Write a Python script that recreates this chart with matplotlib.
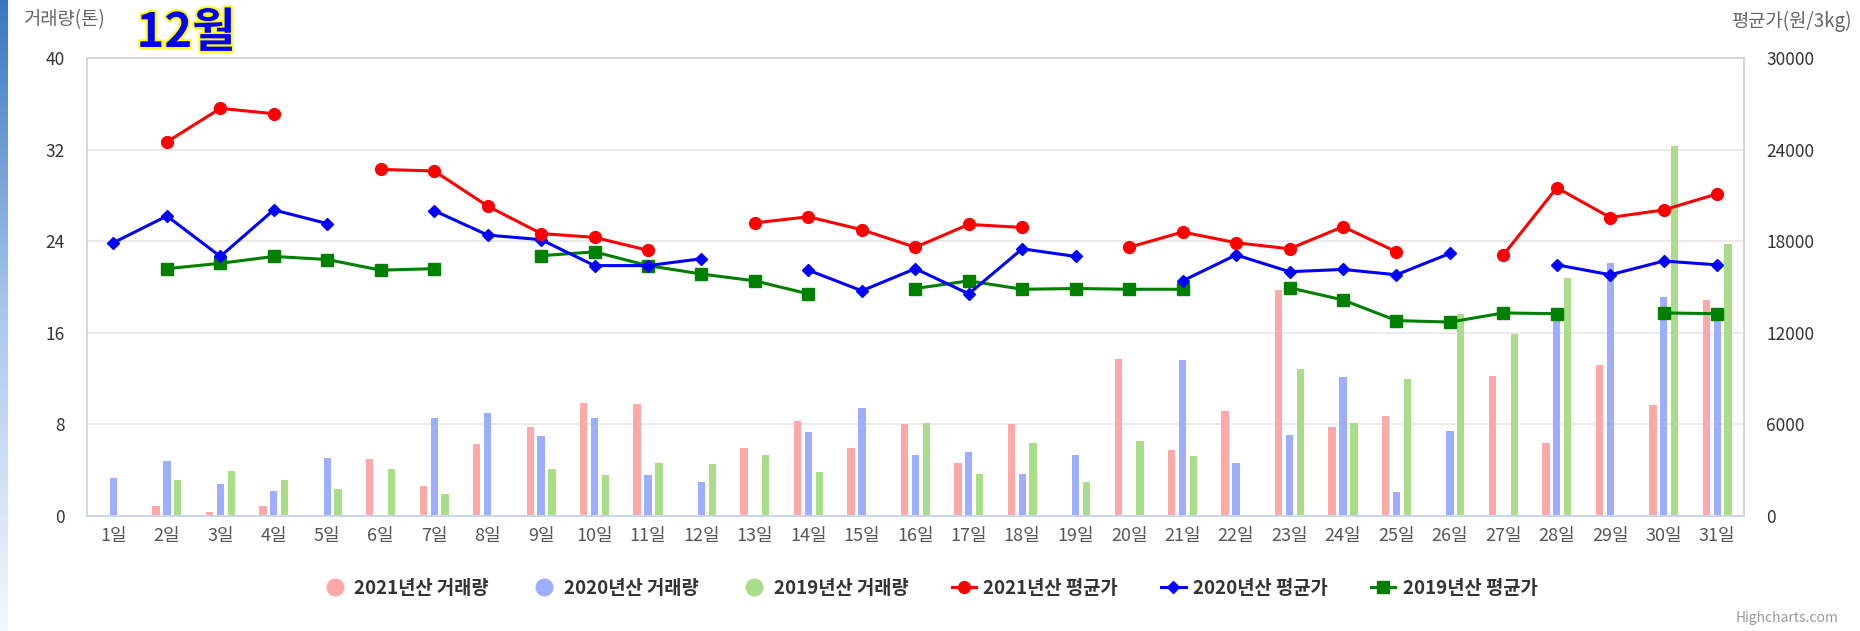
import matplotlib
matplotlib.use("Agg")
import matplotlib.pyplot as plt
import matplotlib.patheffects as pe
from matplotlib.lines import Line2D
from matplotlib.colors import LinearSegmentedColormap
import numpy as np

plt.rcParams['font.family'] = ['Noto Sans CJK KR', 'DejaVu Sans']

nan = np.nan
days = [f"{d}일" for d in range(1, 32)]

# 거래량 (톤)
vol_2021 = [nan, 0.85, 0.32, 0.85, nan, 5.0, 2.6, 6.3, 7.75, 9.9, 9.8,
            nan, 5.9, 8.3, 5.9, 8.0, 4.6, 8.0, nan, 13.7, 5.75, 9.2,
            19.7, 7.8, 8.7, nan, 12.2, 6.4, 13.2, 9.7, 18.9]
vol_2020 = [3.3, 4.8, 2.8, 2.2, 5.05, nan, 8.6, 9.0, 7.0, 8.6, 3.55,
            3.0, nan, 7.35, 9.4, 5.3, 5.6, 3.7, 5.3, nan, 13.6, 4.65,
            7.1, 12.1, 2.05, 7.4, nan, 17.6, 22.1, 19.15, 17.6]
vol_2019 = [nan, 3.15, 3.95, 3.15, 2.35, 4.1, 1.95, nan, 4.1, 3.55, 4.65,
            4.5, 5.3, 3.85, nan, 8.15, 3.7, 6.4, 3.0, 6.55, 5.2, nan,
            12.8, 8.15, 11.95, 17.65, 15.9, 20.8, nan, 32.3, 23.75]

# 평균가 (원/3kg)
price_2021 = [nan, 24500, 26700, 26350, nan, 22700, 22600, 20300, 18500, 18250, 17400,
              nan, 19200, 19600, 18750, 17600, 19100, 18900, nan, 17600, 18600, 17900,
              17500, 18950, 17300, nan, 17100, 21500, 19550, 20050, 21100]
price_2020 = [17900, 19650, 17000, 20050, 19150, nan, 20000, 18400, 18100, 16400, 16400,
              16850, nan, 16100, 14750, 16200, 14550, 17500, 17000, nan, 15400, 17100,
              16000, 16150, 15800, 17200, nan, 16450, 15800, 16700, 16450]
price_2019 = [nan, 16200, 16550, 17000, 16800, 16100, 16200, nan, 17050, 17300, 16400,
              15850, 15400, 14550, nan, 14900, 15400, 14850, 14900, 14850, 14850, nan,
              14950, 14150, 12800, 12700, 13300, 13250, nan, 13300, 13250]

fig = plt.figure(figsize=(18.6, 6.31), dpi=100)
ax = fig.add_axes([0.0466, 0.1823, 0.9376 - 0.0466, 0.9081 - 0.1823])

x = np.arange(len(days))
bw = 0.137
off = 0.204
ax.bar(x - off, vol_2021, bw, color='#ffa8a8', zorder=2)
ax.bar(x, vol_2020, bw, color='#9eaefe', zorder=2)
ax.bar(x + off, vol_2019, bw, color='#aadd88', zorder=2)

ax.set_xlim(-0.5, len(days) - 0.5)
ax.set_ylim(0, 40)
ax.set_yticks(np.arange(0, 41, 8))
ax.set_xticks(x)
ax.set_xticklabels(days)
ax.grid(axis='y', color='#e6e6e6', linewidth=1.2)
ax.set_axisbelow(True)
ax.tick_params(axis='y', length=0, pad=16, labelsize=12.5, labelcolor='#333333')
ax.tick_params(axis='x', length=0, pad=8, labelsize=13, labelcolor='#555555')
for s in ['top', 'left', 'right']:
    ax.spines[s].set_color('#d0d0d0')
    ax.spines[s].set_linewidth(1.2)
ax.spines['bottom'].set_color('#ccd6eb')
ax.spines['bottom'].set_linewidth(1.5)

ax2 = ax.twinx()
ax2.set_ylim(0, 30000)
ax2.set_yticks(np.arange(0, 30001, 6000))
ax2.tick_params(axis='y', length=0, pad=16, labelsize=12.5, labelcolor='#333333')
for s in ax2.spines.values():
    s.set_visible(False)

ax2.plot(x, price_2021, color='#ff0000', lw=2.2, marker='o', ms=8.5, zorder=5)
ax2.plot(x, price_2020, color='#0000ff', lw=2.2, marker='D', ms=6.5, zorder=4)
ax2.plot(x, price_2019, color='#008000', lw=2.2, marker='s', ms=8.5, zorder=3)

# axis titles
fig.text(23 / 1860, 1 - 20 / 631, '거래량(톤)', fontsize=13.5, color='#666666',
         ha='left', va='center')
fig.text(1852 / 1860, 1 - 21 / 631, '평균가(원/3kg)', fontsize=13.5, color='#666666',
         ha='right', va='center')

# month label
fig.text(186 / 1860, 1 - 33 / 631, '12월', fontsize=34, fontweight='bold', color='#0000ff',
         ha='center', va='center',
         path_effects=[pe.withStroke(linewidth=3, foreground='#ffff00')])

# legend
handles = [
    Line2D([], [], ls='none', marker='o', ms=12, color='#ffa8a8'),
    Line2D([], [], ls='none', marker='o', ms=12, color='#9eaefe'),
    Line2D([], [], ls='none', marker='o', ms=12, color='#aadd88'),
    Line2D([], [], color='#ff0000', lw=2.2, marker='o', ms=8.5),
    Line2D([], [], color='#0000ff', lw=2.2, marker='D', ms=6.5),
    Line2D([], [], color='#008000', lw=2.2, marker='s', ms=8.5),
]
labels = ['2021년산 거래량', '2020년산 거래량', '2019년산 거래량',
          '2021년산 평균가', '2020년산 평균가', '2019년산 평균가']
leg = fig.legend(handles, labels, loc='center', bbox_to_anchor=(0.5, 1 - 588 / 631),
                 ncol=6, frameon=False, handlelength=1.3, handletextpad=0.4,
                 columnspacing=2.3, prop={'size': 13.5, 'weight': 'bold'})
for t in leg.get_texts():
    t.set_color('#333333')

fig.text(1838 / 1860, 1 - 618 / 631, 'Highcharts.com', fontsize=10, color='#999999',
         ha='right', va='center')

# blue strip at left edge
strip = fig.add_axes([0, 0, 7 / 1860, 1])
grad = np.linspace(0, 1, 256).reshape(-1, 1)
cmap = LinearSegmentedColormap.from_list('strip', ['#3a76c0', '#a9c9ec', '#f4f8fd'])
strip.imshow(grad, aspect='auto', cmap=cmap, extent=[0, 1, 1, 0])
strip.axis('off')

fig.savefig('out.png', dpi=100)
